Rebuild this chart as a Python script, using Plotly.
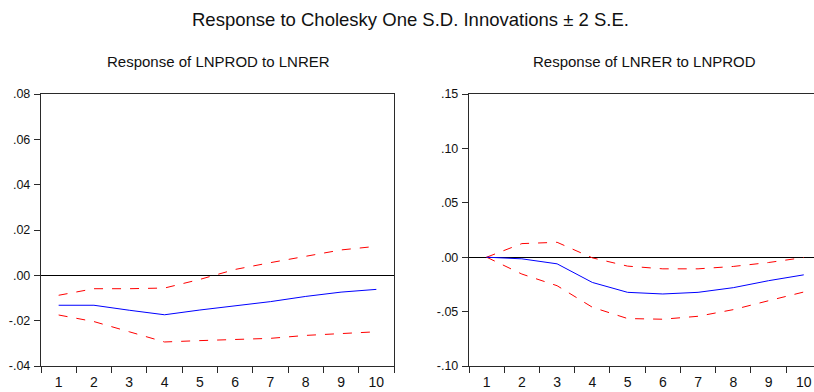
import plotly.graph_objects as go

periods = [1, 2, 3, 4, 5, 6, 7, 8, 9, 10]

# Response of LNPROD to LNRER
prod_resp = [-0.0132, -0.0132, -0.0154, -0.0174, -0.0153, -0.0135, -0.0116, -0.0093, -0.0074, -0.0062]
prod_upper = [-0.0088, -0.0059, -0.0059, -0.0056, -0.0018, 0.0026, 0.0056, 0.0085, 0.0112, 0.0128]
prod_lower = [-0.0175, -0.0204, -0.0249, -0.0294, -0.0288, -0.0282, -0.0278, -0.0265, -0.0256, -0.0249]

# Response of LNRER to LNPROD
rer_resp = [0.0, -0.0015, -0.0061, -0.0232, -0.0323, -0.0338, -0.0323, -0.0280, -0.0216, -0.0162]
rer_upper = [0.0, 0.0125, 0.0137, -0.0006, -0.0082, -0.0107, -0.0107, -0.0085, -0.0049, -0.0003]
rer_lower = [0.0, -0.0155, -0.0262, -0.0460, -0.0564, -0.0570, -0.0543, -0.0482, -0.0400, -0.0320]

left_yticks = [-0.04, -0.02, 0.0, 0.02, 0.04, 0.06, 0.08]
left_ylabels = ["-.04", "-.02", ".00", ".02", ".04", ".06", ".08"]
right_yticks = [-0.10, -0.05, 0.0, 0.05, 0.10, 0.15]
right_ylabels = ["-.10", "-.05", ".00", ".05", ".10", ".15"]
x_labels = [str(p) for p in periods]
x_bounds = [p - 0.5 for p in periods] + [10.5]

title_text = "Response to Cholesky One S.D. Innovations \u00b1 2 S.E."
left_title = "Response of LNPROD to LNRER"
right_title = "Response of LNRER to LNPROD"

FONT = "Liberation Sans Narrow, Arial Narrow, Liberation Sans, Arial, sans-serif"
W, H = 814, 392

def px(x):
    return x / W

def py(y):
    return 1 - y / H

fig = go.Figure()

def add_panel(xa, ya, resp, up, lo):
    fig.add_trace(go.Scatter(x=periods, y=up, mode="lines", xaxis=xa, yaxis=ya,
                             line=dict(color="#ff0000", width=1, dash="dash"), showlegend=False))
    fig.add_trace(go.Scatter(x=periods, y=lo, mode="lines", xaxis=xa, yaxis=ya,
                             line=dict(color="#ff0000", width=1, dash="dash"), showlegend=False))
    fig.add_trace(go.Scatter(x=periods, y=resp, mode="lines", xaxis=xa, yaxis=ya,
                             line=dict(color="#0000ff", width=1), showlegend=False))

add_panel("x", "y", prod_resp, prod_upper, prod_lower)
add_panel("x2", "y2", rer_resp, rer_upper, rer_lower)

y_dom = [py(366), py(94)]
axis_common = dict(showgrid=False, showline=True, linecolor="#2a2a2a", linewidth=1.4,
                   automargin=False, ticklabeloverflow="allow")

xcommon = dict(axis_common, tickvals=periods, ticktext=x_labels, ticks="",
               tickfont=dict(family=FONT, size=14, color="#111111"), ticklabelstandoff=3,
               minor=dict(tickvals=x_bounds, ticks="outside", ticklen=6, tickcolor="#2a2a2a", tickwidth=1),
               zeroline=False, mirror=True)

ycommon = dict(axis_common, ticks="outside", ticklen=6, tickcolor="#2a2a2a",
               tickfont=dict(family=FONT, size=12.5, color="#111111"), ticklabelstandoff=1,
               zeroline=True, zerolinecolor="#000000", zerolinewidth=1)

fig.update_layout(
    width=W, height=H,
    margin=dict(l=0, r=0, t=0, b=0),
    paper_bgcolor="white", plot_bgcolor="white",
    font=dict(family=FONT, color="#111111"),
    xaxis=dict(xcommon, domain=[px(41), px(394)], range=[0.5, 10.5], anchor="y"),
    yaxis=dict(ycommon, domain=y_dom, range=[-0.04, 0.08], tickvals=left_yticks,
               ticktext=left_ylabels, mirror=True, anchor="x"),
    xaxis2=dict(xcommon, domain=[px(469), 1.0], range=[0.5, 10.29], anchor="y2"),
    yaxis2=dict(ycommon, domain=y_dom, range=[-0.10, 0.15], tickvals=right_yticks,
                ticktext=right_ylabels, mirror=False, anchor="x2"),
    annotations=[
        dict(text=title_text, x=px(410), y=py(20), xref="paper", yref="paper",
             showarrow=False, font=dict(family=FONT, size=18.5, color="#111111"),
             xanchor="center", yanchor="middle"),
        dict(text=left_title, x=px(218), y=py(61), xref="paper", yref="paper",
             showarrow=False, font=dict(family=FONT, size=15, color="#111111"),
             xanchor="center", yanchor="middle"),
        dict(text=right_title, x=px(644), y=py(61), xref="paper", yref="paper",
             showarrow=False, font=dict(family=FONT, size=15, color="#111111"),
             xanchor="center", yanchor="middle"),
    ],
)

fig.write_html("out.html", config={"displayModeBar": False},
               post_script="document.body.style.margin='0';document.body.style.overflow='hidden';")
